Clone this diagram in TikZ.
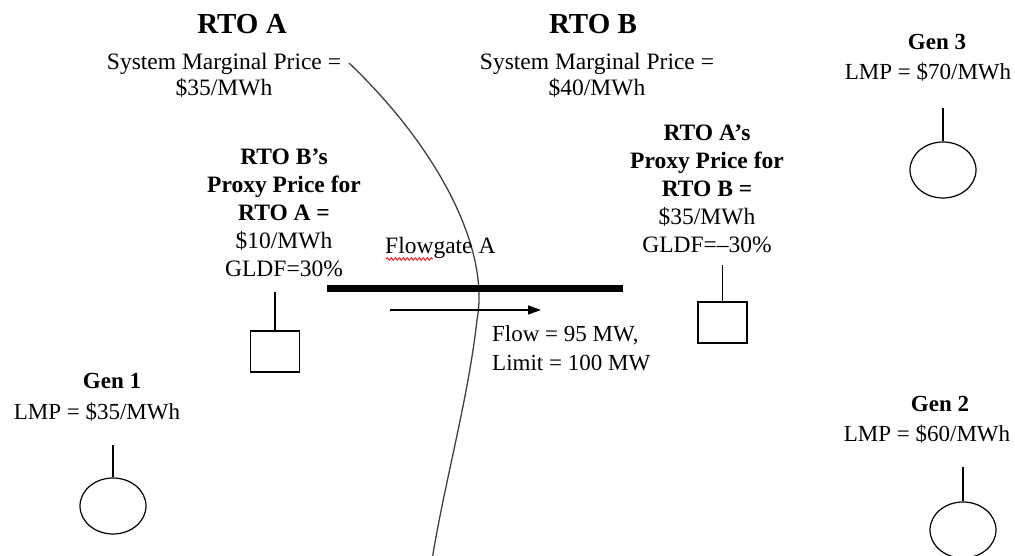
\documentclass[tikz,border=0pt]{standalone}
\usepackage{fontspec}
\setmainfont{Liberation Serif}
\usetikzlibrary{shapes.geometric,arrows.meta,decorations.pathmorphing}
\begin{document}
\begin{tikzpicture}[x=1pt,y=-1pt,
  title/.style={font=\fontsize{29}{32}\selectfont\bfseries},
  txt/.style={font=\fontsize{23.5}{26}\selectfont, align=center, inner sep=0pt},
  gentxt/.style={font=\fontsize{23}{30}\selectfont, align=center, inner sep=0pt},
  proxy/.style={font=\fontsize{23.5}{28}\selectfont, align=center, inner sep=0pt},
  loadbox/.style={draw, line width=1.2pt, minimum width=49pt, minimum height=41pt, inner sep=0pt},
  genring/.style={draw, line width=1.2pt, ellipse, minimum width=66pt, minimum height=56pt, inner sep=0pt},
  stem/.style={line width=1.2pt}]
\useasboundingbox (0,0) rectangle (1015,556);
\fill[white] (0,0) rectangle (1015,556);

% titles
\node[title] (rtoa) at (242,24) {RTO A};
\node[title] (rtob) at (593,24) {RTO B};
\node[txt] (smpa) at (224,75) {System Marginal Price =\\\$35/MWh};
\node[txt] (smpb) at (597,75) {System Marginal Price =\\\$40/MWh};

% seam curve
\coordinate (seamtop) at (349,63);
\coordinate (seammid) at (477,320);
\coordinate (seambot) at (432,560);
\draw[line width=1.3pt, black!75] (seamtop) .. controls (440,150) and (490,250) .. (seammid)
  .. controls (468,400) and (445,480) .. (seambot);

% Gen 3
\node[gentxt] (gen3lbl) at (928,58) {\hspace*{18pt}\textbf{Gen 3}\\LMP = \$70/MWh};
\node[genring] (gen3) at (943,170) {};
\coordinate (gen3top) at (943,108);
\draw[stem] (gen3top) -- (gen3.north);

% RTO B's proxy
\node[proxy] (proxya) at (284,213) {\textbf{RTO B’s}\\\textbf{Proxy Price for}\\\textbf{RTO A =}\\\$10/MWh\\GLDF=30\%};
\node[loadbox] (boxa) at (275,351.5) {};
\coordinate (boxatop) at (275,292);
\draw[stem] (boxatop) -- (boxa.north);

% RTO A's proxy
\node[proxy] (proxyb) at (707,189) {\textbf{RTO A’s}\\\textbf{Proxy Price for}\\\textbf{RTO B =}\\\$35/MWh\\GLDF=–30\%};
\node[loadbox] (boxb) at (722.5,322.5) {};
\coordinate (boxbtop) at (722.5,265);
\draw[stem] (boxbtop) -- (boxb.north);

% flowgate
\coordinate (fgl) at (327,288);
\coordinate (fgr) at (623,288);
\draw[line width=7pt] (fgl) -- (fgr);
\node[txt, anchor=west] (fglbl) at (385,248) {Flowgate A};
\draw[red, line width=0.8pt, decorate, decoration={snake, amplitude=1.3pt, segment length=4pt}] (386,259) -- (433,259);

% flow arrow
\coordinate (arrs) at (390,310);
\coordinate (arre) at (541,310);
\draw[line width=1.3pt, -{Triangle[length=13pt, width=9pt]}] (arrs) -- (arre);
\node[font=\fontsize{23}{29}\selectfont, align=left, inner sep=0pt, anchor=west] (flowlbl) at (492,348) {Flow = 95 MW,\\Limit = 100 MW};

% Gen 1
\node[font=\fontsize{23}{31}\selectfont, align=center, inner sep=0pt] (gen1lbl) at (97,397) {\hspace*{30pt}\textbf{Gen 1}\\LMP = \$35/MWh};
\node[genring] (gen1) at (113,506) {};
\coordinate (gen1top) at (113,445);
\draw[stem] (gen1top) -- (gen1.north);

% Gen 2
\node[gentxt] (gen2lbl) at (927,420) {\hspace*{26pt}\textbf{Gen 2}\\LMP = \$60/MWh};
\node[genring] (gen2) at (963,530) {};
\coordinate (gen2top) at (963,467);
\draw[stem] (gen2top) -- (gen2.north);
\end{tikzpicture}
\end{document}
